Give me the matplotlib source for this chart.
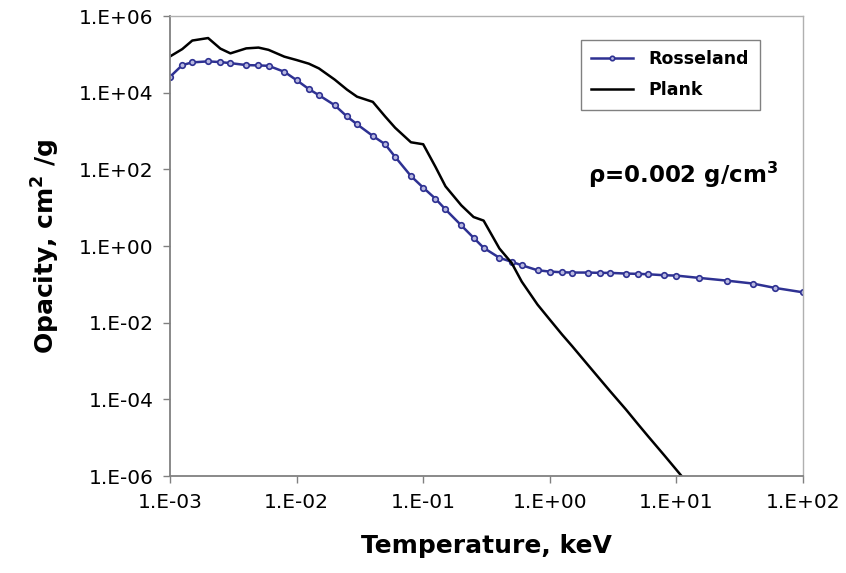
import numpy as np
import matplotlib
matplotlib.use("Agg")
import matplotlib.pyplot as plt
from matplotlib.ticker import FixedLocator, FuncFormatter, NullLocator

# temperatures (keV) at which both opacities are tabulated
temperature = [0.001, 0.00125, 0.0015, 0.002, 0.0025, 0.003, 0.004, 0.005, 0.006, 0.008,
               0.01, 0.0125, 0.015, 0.02, 0.025, 0.03, 0.04, 0.05, 0.06, 0.08,
               0.1, 0.125, 0.15, 0.2, 0.25, 0.3, 0.4, 0.5, 0.6, 0.8,
               1.0, 1.25, 1.5, 2, 2.5, 3, 4, 5, 6, 8,
               10, 15, 25, 40, 60, 100]

# Rosseland mean opacity, cm^2/g
rosseland = [2.59e4, 5.24e4, 6.17e4, 6.55e4, 6.27e4, 5.9e4, 5.24e4, 5.14e4, 5.02e4, 3.5e4,
             2.12e4, 1.24e4, 8610, 4710, 2390, 1500, 743, 452, 212, 66.8,
             33.3, 17.1, 9.0, 3.44, 1.64, 0.898, 0.492, 0.386, 0.315, 0.233,
             0.215, 0.2065, 0.203, 0.203, 0.199, 0.199, 0.191, 0.1875, 0.183, 0.1726,
             0.169, 0.1476, 0.125, 0.105, 0.0807, 0.0619]

# Planck mean opacity, cm^2/g (runs off the bottom of the axis past 10 keV)
plank = [8.8e4, 1.37e5, 2.29e5, 2.66e5, 1.41e5, 1.06e5, 1.43e5, 1.5e5, 1.31e5, 8.7e4,
         7.1e4, 5.7e4, 4.3e4, 2.19e4, 1.2e4, 7860, 5750, 2400, 1216, 508,
         451, 116, 36, 11.5, 5.7, 4.6, 0.86, 0.36, 0.118, 0.0296,
         0.012, 4.9e-3, 2.45e-3, 7.9e-4, 3.3e-4, 1.62e-4, 5.4e-5, 2.2e-5, 1.07e-5, 3.5e-6,
         1.45e-6, 2.9e-7]

x_ticks = [1e-3, 1e-2, 1e-1, 1e0, 1e1, 1e2]
y_ticks = [1e-6, 1e-4, 1e-2, 1e0, 1e2, 1e4, 1e6]

W, H = 846, 573
fig = plt.figure(figsize=(W / 100, H / 100), dpi=100)
ax = fig.add_axes([170 / W, 1 - 476 / H, (803 - 170) / W, (476 - 16) / H])

ax.plot(temperature, rosseland, color="#2e3192", lw=1.8, marker="o", ms=4.0,
        mfc="#b8b8e0", mec="#2e3192", mew=1.2, label="Rosseland")
ax.plot(temperature[:len(plank)], plank, color="black", lw=1.8, label="Plank")

ax.set_xscale("log")
ax.set_yscale("log")
ax.set_xlim(1e-3, 1e2)
ax.set_ylim(1e-6, 1e6)

fmt = FuncFormatter(lambda v, pos: "1.E%+03d" % int(round(np.log10(v))))
ax.xaxis.set_major_locator(FixedLocator(x_ticks))
ax.yaxis.set_major_locator(FixedLocator(y_ticks))
ax.xaxis.set_minor_locator(NullLocator())
ax.yaxis.set_minor_locator(NullLocator())
ax.xaxis.set_major_formatter(fmt)
ax.yaxis.set_major_formatter(fmt)
ax.tick_params(axis="both", direction="out", length=5, width=1, color="#808080",
               labelsize=14.5, pad=7)

for side in ["left", "bottom"]:
    ax.spines[side].set_color("#808080")
    ax.spines[side].set_linewidth(1.3)
for side in ["top", "right"]:
    ax.spines[side].set_color("#b0b0b0")
    ax.spines[side].set_linewidth(1.0)

ax.set_xlabel("Temperature, keV", fontsize=18, fontweight="bold", labelpad=16)
ax.set_ylabel(r"Opacity, cm$^{\mathbf{2}}$ /g", fontsize=18, fontweight="bold", labelpad=12)

ax.text(0.660, 0.655, r"ρ=0.002 g/cm$^{\mathbf{3}}$", transform=ax.transAxes,
        fontsize=16.5, fontweight="bold", va="center", ha="left")

leg = ax.legend(loc="upper left", bbox_to_anchor=(581 / W, 1 - 40 / H),
                bbox_transform=fig.transFigure, borderaxespad=0,
                prop={"weight": "bold", "size": 12.5}, frameon=True, fancybox=False,
                handlelength=2.4, handletextpad=0.9, labelspacing=0.75,
                borderpad=0.6, markerscale=0.8)
leg.get_frame().set_edgecolor("#606060")
leg.get_frame().set_linewidth(1.0)

fig.savefig("out.png", dpi=100)
